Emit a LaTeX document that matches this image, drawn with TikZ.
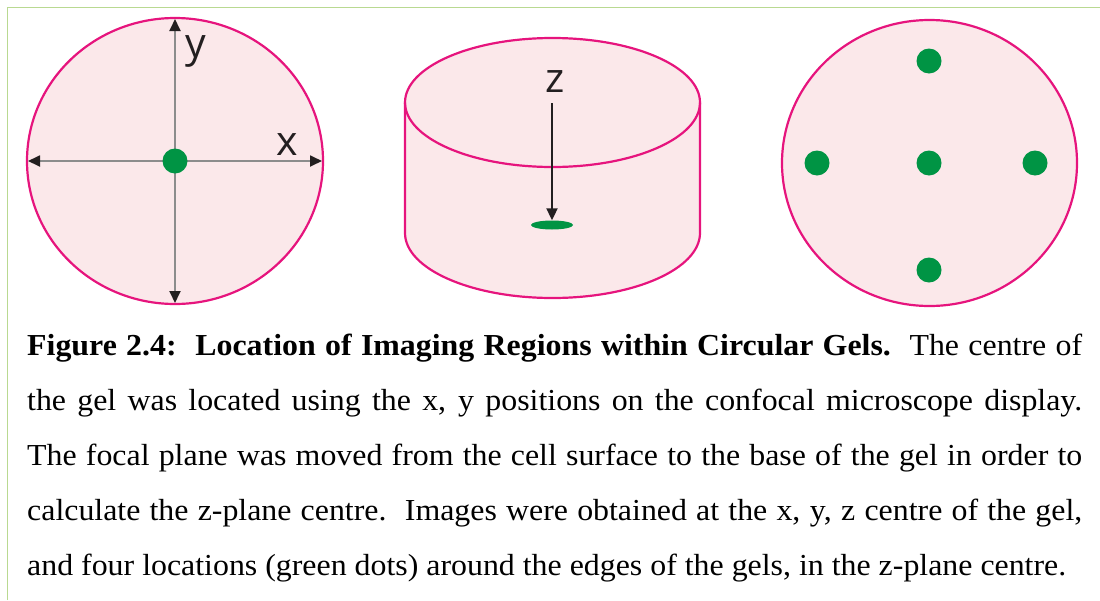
\documentclass[tikz,border=0pt]{standalone}
\usepackage{fontspec}
\setmainfont{Liberation Serif}[FakeStretch=1.045]
\newfontfamily\labelfont{Open Sans}
\usetikzlibrary{arrows.meta,shapes.geometric}
\definecolor{gelfill}{HTML}{FBE8EA}
\definecolor{gelline}{HTML}{E6147D}
\definecolor{dotgreen}{HTML}{009444}
\definecolor{axisgray}{HTML}{8C8C8C}
\definecolor{darkink}{HTML}{231F20}
\definecolor{framegreen}{HTML}{B9D991}
\tikzset{
  gel/.style={fill=gelfill, draw=gelline, line width=2.2pt},
  gelline/.style={draw=gelline, line width=2.2pt},
  spot/.style={circle, fill=dotgreen, inner sep=0pt, minimum size=25pt},
  axis/.style={draw=axisgray, line width=1.8pt, {Triangle[length=12pt,width=11pt,color=darkink]}-{Triangle[length=12pt,width=11pt,color=darkink]}},
  zaxis/.style={draw=darkink, line width=2pt, -{Triangle[length=12pt,width=11pt,color=darkink]}},
  axlabel/.style={anchor=base, inner sep=0pt, text=darkink, font=\labelfont\fontsize{41}{41}\selectfont},
  capline/.style={anchor=base west, inner sep=0pt, font=\fontsize{30.5}{55}\selectfont}
}
\begin{document}
\begin{tikzpicture}[x=1pt, y=-1pt]
\useasboundingbox (0,0) rectangle (1100,600);
% frame
\draw[framegreen, line width=1.6pt] (7.5,600) -- (7.5,7.5) -- (1100,7.5);

% left gel (top view with axes)
\path[gel] (175,161) ellipse [x radius=148pt, y radius=143pt];
\coordinate (xl) at (28,161);
\coordinate (xr) at (322,161);
\coordinate (yt) at (175,19);
\coordinate (yb) at (175,303);
\draw[axis] (xl) -- (xr);
\draw[axis] (yb) -- (yt);
\node[spot] (c1) at (175,161) {};
\node[axlabel] (ylab) at (196,57) {y};
\node[axlabel] (xlab) at (287,155) {x};

% middle gel (cylinder)
\path[fill=gelfill] (405,102.5) -- (405,233) arc[start angle=180, end angle=360, x radius=147.5pt, y radius=65pt] -- (700,102.5) -- cycle;
\path[gel] (552.5,102.5) ellipse [x radius=147.5pt, y radius=64.5pt];
\draw[gelline] (405,102.5) -- (405,233) arc[start angle=180, end angle=360, x radius=147.5pt, y radius=65pt] -- (700,102.5);
\node[ellipse, fill=dotgreen, inner sep=0pt, minimum width=42pt, minimum height=9pt] (zc) at (552,225) {};
\node[axlabel] (zlab) at (555,92) {z};
\coordinate (zt) at (552,103);
\draw[zaxis] (zt) -- (zc.north);

% right gel (five positions)
\path[gel] (929.5,163) ellipse [x radius=147.5pt, y radius=143pt];
\node[spot] (pc) at (929,163) {};
\node[spot] (pt) at (929,61) {};
\node[spot] (pb) at (929,270) {};
\node[spot] (pl) at (817,163) {};
\node[spot] (pr) at (1035,163) {};

% caption
\node[capline] (l1) at (27,355) {\makebox[1055pt][s]{\textbf{Figure 2.4:\ \ Location of Imaging Regions within Circular Gels.}\ \ The centre of}};
\node[capline] (l2) at (27,410) {\makebox[1055pt][s]{the gel was located using the x, y positions on the confocal microscope display.}};
\node[capline] (l3) at (27,465.5) {\makebox[1055pt][s]{The focal plane was moved from the cell surface to the base of the gel in order to}};
\node[capline] (l4) at (27,520) {\makebox[1055pt][s]{calculate the z-plane centre.\ \ Images were obtained at the x, y, z centre of the gel,}};
\node[capline] (l5) at (27,575) {and four locations (green dots) around the edges of the gels, in the z-plane centre.};
\end{tikzpicture}
\end{document}
